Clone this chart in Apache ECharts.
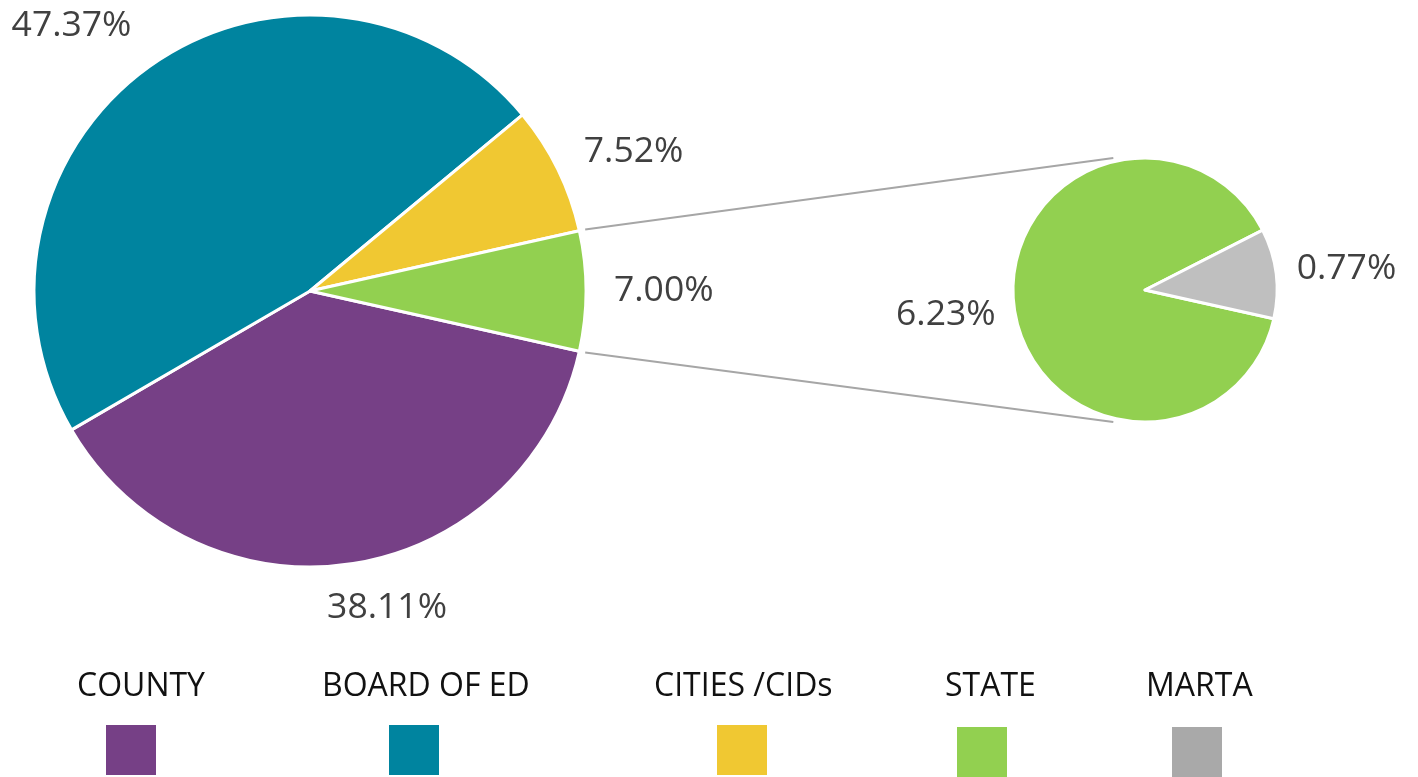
<!DOCTYPE html>
<html><head><meta charset="utf-8">
<script src="https://cdn.jsdelivr.net/npm/echarts@6/dist/echarts.min.js"></script>
<style>html,body{margin:0;padding:0;background:#fff}#c{width:1418px;height:777px}</style>
</head><body><div id="c"></div><script>
// ---- data ----
const mainNames = ['COUNTY', 'BOARD OF ED', 'CITIES /CIDs', 'STATE + MARTA'];
const mainValues = [38.11, 47.37, 7.52, 7.00];
const subNames = ['STATE', 'MARTA'];
const subValues = [6.23, 0.77];
const legendNames = ['COUNTY', 'BOARD OF ED', 'CITIES /CIDs', 'STATE', 'MARTA'];

// ---- styles ----
const sliceColors = {
  'COUNTY': '#764086', 'BOARD OF ED': '#00849F', 'CITIES /CIDs': '#F0C832',
  'STATE + MARTA': '#92D050', 'STATE': '#92D050', 'MARTA': '#BFBFBF'
};
const legendColors = ['#764086', '#00849F', '#F0C832', '#92D050', '#A9A9A9'];
const legendTextLeft = [72, 317, 649, 940, 1141];
const legendIconPos = [[104, 723], [387, 723], [715, 723], [955, 725], [1170, 725]];
// label line lengths (hidden lines, used to place outside labels)
const mainLabelLen = [[45, -37], [48, -12], [39, -14], [23, 0]];
const subLabelLen = [[67, -53], [38, -22]];

const mainCenter = [310, 291], mainR = 276;
const subCenter = [1145, 290], subR = 132;

const total = mainValues.reduce((a, b) => a + b, 0);
const otherHalf = mainValues[3] / total * 180;   // half angle of combined slice
const startAngle = -otherHalf;

const labelFont = { fontFamily: 'Open Sans', fontSize: 35.5, color: '#404040' };

function pieData(names, values, lens) {
  return names.map((n, i) => ({
    name: n, value: values[i],
    itemStyle: { color: sliceColors[n] },
    labelLine: { show: false, length: lens[i][0], length2: lens[i][1] }
  }));
}

// connector lines computed from pie geometry
const rad = otherHalf * Math.PI / 180;
const p1 = [mainCenter[0] + (mainR + 6) * Math.cos(rad), mainCenter[1] - (mainR + 6) * Math.sin(rad)];
const p2 = [mainCenter[0] + (mainR + 6) * Math.cos(rad), mainCenter[1] + (mainR + 6) * Math.sin(rad)];
const q1 = [subCenter[0] - 0.24 * subR, subCenter[1] - subR];
const q2 = [subCenter[0] - 0.24 * subR, subCenter[1] + subR];

const legends = [];
legendNames.forEach((n, i) => {
  legends.push({
    data: [n], left: legendTextLeft[i], top: 665, padding: 0,
    icon: 'none', itemWidth: 0, itemHeight: 44, selectedMode: false,
    textStyle: { fontFamily: 'Open Sans', fontSize: 32, color: '#111', lineHeight: 44 }
  });
  legends.push({
    data: [{ name: n, itemStyle: { color: legendColors[i] } }],
    left: legendIconPos[i][0], top: legendIconPos[i][1], padding: 0,
    icon: 'rect', itemWidth: 52, itemHeight: 52, itemGap: 0, selectedMode: false,
    formatter: () => '', textStyle: { fontSize: 1 }
  });
});

const chart = echarts.init(document.getElementById('c'));
chart.setOption({
  backgroundColor: '#fff',
  animation: false,
  legend: legends,
  graphic: [
    { type: 'line', z: 0, shape: { x1: p1[0], y1: p1[1], x2: q1[0], y2: q1[1] }, style: { stroke: '#A6A6A6', lineWidth: 2 } },
    { type: 'line', z: 0, shape: { x1: p2[0], y1: p2[1], x2: q2[0], y2: q2[1] }, style: { stroke: '#A6A6A6', lineWidth: 2 } }
  ],
  series: [
    {
      type: 'pie', center: mainCenter, radius: mainR, startAngle: startAngle, clockwise: true,
      itemStyle: { borderColor: '#fff', borderWidth: 3 },
      emphasis: { scale: false },
      label: Object.assign({ show: true, position: 'outside', width: 150, overflow: 'none', bleedMargin: 0,
        formatter: p => p.value.toFixed(2) + '%' }, labelFont),
      data: pieData(mainNames, mainValues, mainLabelLen)
    },
    {
      type: 'pie', center: subCenter, radius: subR, startAngle: startAngle, clockwise: true,
      itemStyle: { borderColor: '#fff', borderWidth: 3 },
      emphasis: { scale: false },
      label: Object.assign({ show: true, position: 'outside', width: 150, overflow: 'none', bleedMargin: 0,
        formatter: p => p.value.toFixed(2) + '%' }, labelFont),
      data: pieData(subNames, subValues, subLabelLen)
    }
  ]
});
</script></body></html>
